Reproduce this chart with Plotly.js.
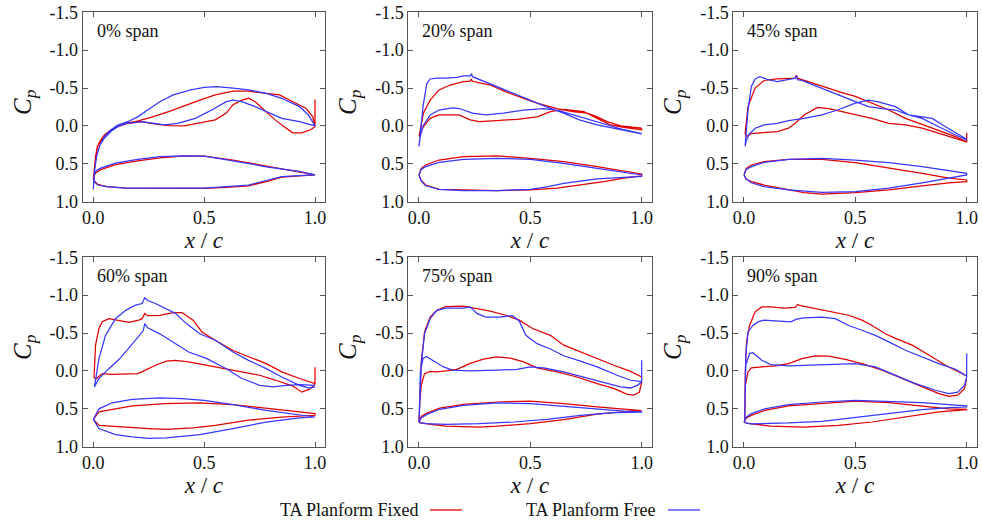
<!DOCTYPE html>
<html>
<head>
<meta charset="utf-8">
<script src="https://cdn.plot.ly/plotly-3.0.1.min.js"></script>
<style>html,body{margin:0;padding:0;background:#fff;}#chart{width:982px;height:523px;}</style>
</head>
<body>
<div id="chart"></div>
<script>
// ---------------- DATA ----------------
const spanLabels = ['0% span', '20% span', '45% span', '60% span', '75% span', '90% span'];
const seriesNames = ['TA Planform Fixed', 'TA Planform Free'];
const xTickVals = [0, 0.5, 1.0];
const xTickText = ['0.0', '0.5', '1.0'];
const yTickVals = [-1.5, -1.0, -0.5, 0.0, 0.5, 1.0];
const yTickText = ['-1.5', '-1.0', '-0.5', '0.0', '0.5', '1.0'];

// 0% span
const s0_fixed_x = [1.0, 1.0, 0.99, 0.96, 0.9, 0.84, 0.78, 0.70, 0.63, 0.55, 0.49, 0.41, 0.34, 0.26, 0.19, 0.15, 0.11, 0.08, 0.05, 0.03, 0.018, 0.01, 0.005, 0.0, 0.005, 0.01, 0.02, 0.05, 0.08, 0.11, 0.15, 0.19, 0.22, 0.26, 0.34, 0.41, 0.48, 0.55, 0.6, 0.63, 0.67, 0.70, 0.73, 0.78, 0.82, 0.87, 0.90, 0.94, 0.98, 1.0];
const s0_fixed_cp = [-0.35, 0.01, -0.12, -0.23, -0.32, -0.41, -0.43, -0.46, -0.46, -0.41, -0.35, -0.26, -0.19, -0.114, -0.056, -0.04, 0.009, 0.05, 0.12, 0.2, 0.27, 0.4, 0.55, 0.71, 0.55, 0.42, 0.27, 0.12, 0.05, 0.01, -0.03, -0.05, -0.056, -0.035, -0.004, 0.0, -0.035, -0.08, -0.17, -0.28, -0.34, -0.365, -0.32, -0.19, -0.08, 0.03, 0.09, 0.09, 0.05, 0.01];
const s0_free_x = [1.0, 0.97, 0.93, 0.85, 0.78, 0.70, 0.63, 0.555, 0.5, 0.44, 0.36, 0.3, 0.245, 0.2, 0.155, 0.11, 0.08, 0.05, 0.03, 0.015, 0.005, 0.0, 0.005, 0.015, 0.03, 0.05, 0.08, 0.11, 0.15, 0.22, 0.26, 0.32, 0.38, 0.46, 0.54, 0.6, 0.63, 0.67, 0.73, 0.78, 0.85, 0.93, 1.0];
const s0_free_cp = [0.0, -0.145, -0.255, -0.365, -0.43, -0.475, -0.50, -0.52, -0.51, -0.475, -0.41, -0.32, -0.21, -0.12, -0.056, -0.01, 0.05, 0.14, 0.25, 0.4, 0.6, 0.84, 0.6, 0.4, 0.25, 0.16, 0.07, 0.01, -0.035, -0.056, -0.035, -0.013, -0.035, -0.1, -0.22, -0.32, -0.34, -0.32, -0.255, -0.19, -0.1, -0.056, 0.0];
const s0_fixedFoil_x = [0, 0.01, 0.03, 0.1, 0.2, 0.3, 0.4, 0.5, 0.63, 0.78, 0.93, 1.0, 0.93, 0.85, 0.78, 0.7, 0.6, 0.5, 0.4, 0.3, 0.15, 0.06, 0.02, 0.005, 0];
const s0_fixedFoil_y = [0.68, 0.62, 0.58, 0.51, 0.46, 0.42, 0.40, 0.40, 0.45, 0.53, 0.60, 0.645, 0.66, 0.675, 0.735, 0.79, 0.81, 0.825, 0.825, 0.82, 0.82, 0.80, 0.77, 0.73, 0.68];
const s0_freeFoil_x = [0, 0.01, 0.03, 0.1, 0.2, 0.3, 0.4, 0.5, 0.63, 0.78, 0.93, 1.0, 0.93, 0.85, 0.78, 0.7, 0.6, 0.5, 0.4, 0.3, 0.15, 0.06, 0.02, 0.005, 0];
const s0_freeFoil_y = [0.68, 0.6, 0.56, 0.49, 0.44, 0.405, 0.395, 0.40, 0.46, 0.54, 0.60, 0.645, 0.655, 0.67, 0.72, 0.78, 0.80, 0.82, 0.82, 0.82, 0.82, 0.80, 0.78, 0.74, 0.68];

// 20% span
const s1_fixed_x = [1.0, 0.905, 0.845, 0.8, 0.755, 0.69, 0.62, 0.53, 0.47, 0.39, 0.32, 0.26, 0.24, 0.235, 0.23, 0.2, 0.14, 0.09, 0.05, 0.02, 0.005, 0.0, 0.005, 0.02, 0.05, 0.09, 0.15, 0.18, 0.23, 0.27, 0.35, 0.44, 0.53, 0.59, 0.65, 0.74, 0.8, 0.86, 0.92, 1.0, 1.0];
const s1_fixed_cp = [0.03, 0.0, -0.057, -0.12, -0.17, -0.19, -0.23, -0.3, -0.365, -0.45, -0.54, -0.585, -0.59, -0.62, -0.59, -0.585, -0.54, -0.475, -0.34, -0.17, 0.05, 0.14, 0.1, 0.01, -0.1, -0.145, -0.15, -0.145, -0.08, -0.057, -0.07, -0.088, -0.12, -0.19, -0.22, -0.19, -0.1, -0.013, 0.02, 0.05, 0.03];
const s1_free_x = [1.0, 0.95, 0.875, 0.8, 0.72, 0.65, 0.57, 0.5, 0.44, 0.35, 0.26, 0.24, 0.236, 0.23, 0.2, 0.17, 0.12, 0.08, 0.05, 0.035, 0.018, 0.005, 0.0, 0.005, 0.018, 0.05, 0.09, 0.15, 0.18, 0.24, 0.3, 0.38, 0.47, 0.56, 0.62, 0.695, 0.77, 0.845, 0.92, 1.0];
const s1_free_cp = [0.105, 0.075, 0.03, -0.013, -0.08, -0.17, -0.255, -0.34, -0.41, -0.52, -0.63, -0.65, -0.69, -0.66, -0.66, -0.64, -0.63, -0.63, -0.62, -0.56, -0.255, 0.1, 0.27, 0.15, 0.0, -0.145, -0.21, -0.24, -0.23, -0.17, -0.145, -0.17, -0.21, -0.23, -0.21, -0.145, -0.07, -0.013, 0.05, 0.1];
const s1_fixedFoil_x = [0, 0.01, 0.03, 0.09, 0.2, 0.35, 0.5, 0.65, 0.8, 0.92, 1.0, 1.0, 0.92, 0.83, 0.725, 0.62, 0.5, 0.35, 0.2, 0.09, 0.03, 0.01, 0];
const s1_fixedFoil_y = [0.647, 0.56, 0.515, 0.45, 0.405, 0.396, 0.427, 0.47, 0.537, 0.6, 0.634, 0.66, 0.69, 0.735, 0.78, 0.82, 0.845, 0.854, 0.845, 0.836, 0.78, 0.72, 0.647];
const s1_freeFoil_x = [0, 0.01, 0.03, 0.09, 0.2, 0.35, 0.5, 0.65, 0.8, 0.92, 1.0, 1.0, 0.8, 0.65, 0.58, 0.5, 0.35, 0.2, 0.09, 0.03, 0.01, 0];
const s1_freeFoil_y = [0.647, 0.575, 0.537, 0.48, 0.44, 0.427, 0.44, 0.493, 0.56, 0.616, 0.647, 0.665, 0.7, 0.757, 0.8, 0.836, 0.854, 0.854, 0.836, 0.79, 0.73, 0.647];

// 45% span
const s2_fixed_x = [1.0, 1.0, 0.95, 0.875, 0.8, 0.725, 0.65, 0.575, 0.5, 0.44, 0.35, 0.26, 0.24, 0.235, 0.23, 0.15, 0.09, 0.05, 0.018, 0.005, 0.01, 0.033, 0.09, 0.15, 0.2, 0.23, 0.27, 0.33, 0.38, 0.44, 0.5, 0.575, 0.65, 0.725, 0.8, 0.875, 0.95, 1.0];
const s2_fixed_cp = [0.09, 0.21, 0.14, 0.06, -0.013, -0.1, -0.21, -0.3, -0.39, -0.44, -0.53, -0.61, -0.63, -0.67, -0.63, -0.62, -0.6, -0.5, -0.255, 0.1, 0.14, 0.1, 0.085, 0.075, 0.03, -0.035, -0.145, -0.245, -0.23, -0.19, -0.16, -0.1, -0.035, -0.013, 0.03, 0.1, 0.16, 0.21];
const s2_free_x = [1.0, 0.95, 0.875, 0.8, 0.74, 0.68, 0.62, 0.56, 0.5, 0.44, 0.35, 0.26, 0.24, 0.236, 0.23, 0.2, 0.15, 0.11, 0.07, 0.05, 0.033, 0.018, 0.005, 0.01, 0.025, 0.05, 0.09, 0.15, 0.2, 0.27, 0.35, 0.42, 0.5, 0.56, 0.6, 0.68, 0.74, 0.8, 0.845, 0.905, 1.0];
const s2_free_cp = [0.185, 0.12, 0.01, -0.1, -0.145, -0.21, -0.23, -0.255, -0.32, -0.39, -0.5, -0.6, -0.61, -0.66, -0.63, -0.61, -0.585, -0.61, -0.65, -0.62, -0.52, -0.21, 0.27, 0.2, 0.1, 0.03, -0.013, -0.035, -0.07, -0.1, -0.145, -0.21, -0.3, -0.34, -0.32, -0.255, -0.145, -0.12, -0.1, 0.01, 0.176];
const s2_fixedFoil_x = [0, 0.01, 0.033, 0.09, 0.2, 0.35, 0.5, 0.65, 0.8, 0.92, 1.0, 1.0, 0.92, 0.8, 0.65, 0.5, 0.35, 0.27, 0.17, 0.09, 0.033, 0.01, 0];
const s2_fixedFoil_y = [0.647, 0.56, 0.515, 0.47, 0.44, 0.44, 0.484, 0.55, 0.625, 0.69, 0.713, 0.735, 0.75, 0.79, 0.845, 0.88, 0.9, 0.88, 0.82, 0.78, 0.735, 0.7, 0.647];
const s2_freeFoil_x = [0, 0.01, 0.033, 0.09, 0.2, 0.35, 0.5, 0.65, 0.8, 0.92, 1.0, 1.0, 0.92, 0.8, 0.65, 0.5, 0.35, 0.2, 0.09, 0.033, 0.01, 0];
const s2_freeFoil_y = [0.647, 0.575, 0.537, 0.48, 0.44, 0.427, 0.45, 0.484, 0.537, 0.59, 0.625, 0.647, 0.69, 0.75, 0.82, 0.867, 0.876, 0.845, 0.8, 0.75, 0.7, 0.647];

// 60% span
const s3_fixed_x = [1.0, 1.0, 0.93, 0.85, 0.78, 0.7, 0.63, 0.55, 0.49, 0.45, 0.4, 0.36, 0.3, 0.245, 0.232, 0.22, 0.205, 0.16, 0.115, 0.07, 0.04, 0.025, 0.01, 0.003, 0.01, 0.04, 0.085, 0.145, 0.2, 0.235, 0.28, 0.33, 0.37, 0.43, 0.51, 0.58, 0.66, 0.75, 0.82, 0.9, 0.94, 0.975, 1.0];
const s3_fixed_cp = [-0.05, 0.167, 0.1, 0.013, -0.097, -0.185, -0.27, -0.405, -0.515, -0.67, -0.77, -0.77, -0.735, -0.73, -0.76, -0.69, -0.67, -0.64, -0.67, -0.69, -0.65, -0.56, -0.34, 0.08, 0.11, 0.035, 0.044, 0.044, 0.035, -0.01, -0.075, -0.13, -0.14, -0.12, -0.075, -0.03, 0.005, 0.057, 0.12, 0.2, 0.28, 0.24, 0.18];
const s3_free_x = [1.0, 0.975, 0.93, 0.85, 0.78, 0.7, 0.63, 0.55, 0.48, 0.42, 0.37, 0.33, 0.28, 0.245, 0.232, 0.22, 0.19, 0.146, 0.1, 0.055, 0.025, 0.005, 0.025, 0.07, 0.115, 0.16, 0.205, 0.225, 0.232, 0.245, 0.3, 0.36, 0.43, 0.51, 0.6, 0.67, 0.75, 0.81, 0.87, 0.93, 1.0];
const s3_free_cp = [0.21, 0.225, 0.19, 0.08, -0.03, -0.14, -0.25, -0.405, -0.49, -0.625, -0.76, -0.82, -0.89, -0.93, -0.965, -0.89, -0.87, -0.8, -0.69, -0.47, -0.16, 0.21, 0.1, -0.03, -0.15, -0.3, -0.45, -0.53, -0.625, -0.57, -0.49, -0.38, -0.25, -0.165, -0.03, 0.1, 0.19, 0.21, 0.19, 0.18, 0.19];
const s3_fixedFoil_x = [0, 0.025, 0.1, 0.176, 0.325, 0.477, 0.63, 0.78, 0.9, 1.0, 1.0, 0.85, 0.7, 0.55, 0.45, 0.33, 0.25, 0.1, 0.026, 0];
const s3_fixedFoil_y = [0.64, 0.54, 0.5, 0.46, 0.43, 0.42, 0.445, 0.49, 0.53, 0.564, 0.585, 0.61, 0.65, 0.72, 0.75, 0.77, 0.76, 0.73, 0.72, 0.64];
const s3_freeFoil_x = [0, 0.025, 0.085, 0.175, 0.3, 0.4, 0.5, 0.63, 0.78, 0.9, 1.0, 1.0, 0.93, 0.78, 0.63, 0.48, 0.33, 0.25, 0.175, 0.1, 0.025, 0];
const s3_freeFoil_y = [0.64, 0.5, 0.42, 0.375, 0.357, 0.366, 0.39, 0.445, 0.52, 0.564, 0.6, 0.608, 0.62, 0.675, 0.76, 0.84, 0.885, 0.89, 0.87, 0.84, 0.76, 0.64];

// 75% span
const s4_fixed_x = [1.0, 0.95, 0.875, 0.8, 0.725, 0.65, 0.59, 0.51, 0.45, 0.39, 0.32, 0.245, 0.2, 0.12, 0.08, 0.05, 0.025, 0.01, 0.004, 0.0, 0.004, 0.01, 0.025, 0.05, 0.08, 0.12, 0.17, 0.23, 0.29, 0.35, 0.41, 0.47, 0.53, 0.62, 0.71, 0.8, 0.875, 0.935, 0.965, 0.99, 1.0];
const s4_fixed_cp = [0.08, 0.005, -0.075, -0.163, -0.25, -0.34, -0.47, -0.56, -0.67, -0.735, -0.79, -0.83, -0.855, -0.85, -0.8, -0.71, -0.515, -0.12, 0.3, 0.67, 0.4, 0.19, 0.035, 0.005, 0.013, 0.0, -0.02, -0.1, -0.155, -0.185, -0.17, -0.12, -0.04, 0.013, 0.08, 0.167, 0.23, 0.31, 0.32, 0.28, 0.145];
const s4_free_x = [1.0, 0.95, 0.89, 0.8, 0.725, 0.65, 0.59, 0.53, 0.48, 0.45, 0.42, 0.36, 0.3, 0.26, 0.23, 0.2, 0.12, 0.08, 0.05, 0.025, 0.01, 0.004, 0.0, 0.004, 0.006, 0.018, 0.033, 0.063, 0.11, 0.15, 0.23, 0.35, 0.44, 0.5, 0.56, 0.65, 0.74, 0.83, 0.905, 0.95, 0.98, 1.0, 1.0];
const s4_free_cp = [0.14, 0.123, 0.057, -0.053, -0.13, -0.2, -0.29, -0.36, -0.47, -0.66, -0.73, -0.71, -0.71, -0.76, -0.845, -0.83, -0.83, -0.8, -0.69, -0.49, -0.08, 0.3, 0.67, 0.3, 0.013, -0.163, -0.19, -0.14, -0.053, -0.01, 0.0, -0.01, -0.02, -0.053, -0.04, 0.013, 0.08, 0.154, 0.21, 0.225, 0.19, 0.145, -0.14];
const s4_fixedFoil_x = [0, 0.01, 0.033, 0.093, 0.2, 0.35, 0.5, 0.65, 0.8, 0.92, 1.0, 1.0, 0.95, 0.8, 0.65, 0.5, 0.35, 0.27, 0.12, 0.033, 0.01, 0];
const s4_fixedFoil_y = [0.68, 0.6, 0.56, 0.49, 0.44, 0.41, 0.4, 0.43, 0.475, 0.5, 0.515, 0.525, 0.53, 0.57, 0.643, 0.696, 0.73, 0.74, 0.727, 0.705, 0.69, 0.68];
const s4_freeFoil_x = [0, 0.01, 0.033, 0.093, 0.2, 0.35, 0.5, 0.65, 0.8, 0.92, 1.0, 1.0, 0.875, 0.725, 0.575, 0.425, 0.27, 0.12, 0.033, 0.01, 0];
const s4_freeFoil_y = [0.68, 0.62, 0.577, 0.506, 0.454, 0.42, 0.43, 0.467, 0.506, 0.53, 0.54, 0.545, 0.55, 0.586, 0.64, 0.674, 0.696, 0.705, 0.696, 0.69, 0.68];

// 90% span
const s5_fixed_x = [1.0, 0.905, 0.83, 0.755, 0.68, 0.635, 0.575, 0.53, 0.47, 0.39, 0.32, 0.26, 0.24, 0.23, 0.18, 0.12, 0.08, 0.05, 0.025, 0.012, 0.01, 0.006, 0.003, 0.006, 0.018, 0.033, 0.08, 0.14, 0.2, 0.26, 0.32, 0.38, 0.455, 0.53, 0.62, 0.71, 0.8, 0.875, 0.92, 0.96, 0.99, 1.0];
const s5_fixed_cp = [0.066, -0.075, -0.21, -0.34, -0.43, -0.49, -0.6, -0.67, -0.735, -0.78, -0.825, -0.86, -0.875, -0.84, -0.83, -0.845, -0.845, -0.78, -0.6, -0.4, -0.3, 0.0, 0.67, 0.19, 0.013, -0.04, -0.053, -0.066, -0.097, -0.163, -0.2, -0.194, -0.154, -0.097, -0.01, 0.1, 0.21, 0.3, 0.335, 0.32, 0.233, 0.1];
const s5_free_x = [1.0, 0.95, 0.875, 0.8, 0.725, 0.65, 0.59, 0.53, 0.47, 0.41, 0.35, 0.27, 0.24, 0.236, 0.21, 0.15, 0.09, 0.063, 0.04, 0.018, 0.008, 0.003, 0.008, 0.025, 0.04, 0.08, 0.12, 0.2, 0.3, 0.41, 0.5, 0.59, 0.68, 0.77, 0.86, 0.92, 0.96, 0.99, 1.0, 1.0];
const s5_free_cp = [0.066, -0.022, -0.097, -0.185, -0.273, -0.383, -0.47, -0.537, -0.6, -0.69, -0.71, -0.7, -0.69, -0.683, -0.647, -0.656, -0.67, -0.647, -0.6, -0.515, -0.2, 0.67, -0.075, -0.23, -0.24, -0.14, -0.084, -0.066, -0.075, -0.084, -0.097, -0.053, 0.057, 0.167, 0.255, 0.3, 0.28, 0.19, 0.08, -0.23];
const s5_fixedFoil_x = [0, 0.01, 0.033, 0.093, 0.2, 0.35, 0.5, 0.65, 0.8, 0.92, 1.0, 1.0, 0.875, 0.725, 0.575, 0.425, 0.27, 0.12, 0.033, 0.01, 0];
const s5_fixedFoil_y = [0.674, 0.62, 0.586, 0.52, 0.46, 0.43, 0.4, 0.418, 0.46, 0.5, 0.506, 0.51, 0.54, 0.61, 0.674, 0.72, 0.74, 0.727, 0.705, 0.69, 0.674];
const s5_freeFoil_x = [0, 0.01, 0.033, 0.093, 0.2, 0.35, 0.5, 0.65, 0.8, 0.92, 1.0, 1.0, 0.92, 0.8, 0.65, 0.5, 0.35, 0.2, 0.033, 0.01, 0];
const s5_freeFoil_y = [0.674, 0.61, 0.564, 0.5, 0.445, 0.41, 0.39, 0.4, 0.418, 0.445, 0.46, 0.476, 0.485, 0.51, 0.564, 0.62, 0.665, 0.687, 0.7, 0.69, 0.674];

// ---------------- BUILD ----------------
const RED = 'rgb(228,0,0)';
const BLUE = 'rgb(55,55,255)';
const FONT = "'Liberation Serif', 'Times New Roman', Times, serif";

const panels = [
  [s0_fixed_x, s0_fixed_cp, s0_free_x, s0_free_cp, s0_fixedFoil_x, s0_fixedFoil_y, s0_freeFoil_x, s0_freeFoil_y],
  [s1_fixed_x, s1_fixed_cp, s1_free_x, s1_free_cp, s1_fixedFoil_x, s1_fixedFoil_y, s1_freeFoil_x, s1_freeFoil_y],
  [s2_fixed_x, s2_fixed_cp, s2_free_x, s2_free_cp, s2_fixedFoil_x, s2_fixedFoil_y, s2_freeFoil_x, s2_freeFoil_y],
  [s3_fixed_x, s3_fixed_cp, s3_free_x, s3_free_cp, s3_fixedFoil_x, s3_fixedFoil_y, s3_freeFoil_x, s3_freeFoil_y],
  [s4_fixed_x, s4_fixed_cp, s4_free_x, s4_free_cp, s4_fixedFoil_x, s4_fixedFoil_y, s4_freeFoil_x, s4_freeFoil_y],
  [s5_fixed_x, s5_fixed_cp, s5_free_x, s5_free_cp, s5_fixedFoil_x, s5_fixedFoil_y, s5_freeFoil_x, s5_freeFoil_y]
];

const W = 982, H = 523;
const colDom = [[82.7, 325], [408.3, 651.7], [733.3, 976.7]].map(d => [d[0] / W, d[1] / W]);
const rowDom = [[12.3, 201.7], [257.3, 446.7]].map(d => [1 - d[1] / H, 1 - d[0] / H]);
const cpLabelX = [24, 349, 674];

const traces = [];
const layout = {
  width: W, height: H,
  margin: {l: 0, r: 0, t: 0, b: 0},
  paper_bgcolor: '#fff', plot_bgcolor: '#fff',
  showlegend: false,
  font: {family: FONT, size: 18, color: '#111'},
  annotations: [], shapes: []
};

panels.forEach((p, i) => {
  const n = i === 0 ? '' : String(i + 1);
  const xa = 'x' + n, ya = 'y' + n;
  const col = i % 3, row = Math.floor(i / 3);
  const line = (c) => ({color: c, width: 1.25});
  traces.push({x: p[4], y: p[5], xaxis: xa, yaxis: ya, mode: 'lines', line: line(RED), name: seriesNames[0], showlegend: false, hoverinfo: 'skip'});
  traces.push({x: p[6], y: p[7], xaxis: xa, yaxis: ya, mode: 'lines', line: line(BLUE), name: seriesNames[1], showlegend: false, hoverinfo: 'skip'});
  traces.push({x: p[0], y: p[1], xaxis: xa, yaxis: ya, mode: 'lines', line: line(RED), name: seriesNames[0], showlegend: false, hoverinfo: 'skip'});
  traces.push({x: p[2], y: p[3], xaxis: xa, yaxis: ya, mode: 'lines', line: line(BLUE), name: seriesNames[1], showlegend: false, hoverinfo: 'skip'});

  const common = {
    showline: true, linecolor: '#555', linewidth: 1, mirror: 'ticks',
    ticks: 'inside', ticklen: 5, tickwidth: 1, tickcolor: '#555',
    showgrid: false, zeroline: false,
    tickfont: {family: FONT, size: 18, color: '#111'}
  };
  layout['xaxis' + n] = Object.assign({}, common, {
    domain: colDom[col], anchor: ya, range: [-0.048, 1.045],
    tickmode: 'array', tickvals: xTickVals, ticktext: xTickText,
    title: {text: '<i>x</i> / <i>c</i>', font: {family: FONT, size: 23, color: '#111'}, standoff: 1}
  });
  layout['yaxis' + n] = Object.assign({}, common, {
    domain: rowDom[row], anchor: xa, range: [1.0, -1.5],
    tickmode: 'array', tickvals: yTickVals, ticktext: yTickText
  });
  // y-axis title (rotated, as in the reference)
  const rowMid = row === 0 ? 102 : 347;
  layout.annotations.push({
    text: '<i>C</i><sub><i>p</i></sub>', xref: 'paper', yref: 'paper',
    x: cpLabelX[col] / W, y: 1 - rowMid / H, xanchor: 'center', yanchor: 'middle',
    textangle: -90, showarrow: false, font: {family: FONT, size: 25, color: '#111'}
  });
  layout.annotations.push({
    text: spanLabels[i], xref: xa + ' domain', yref: ya + ' domain',
    x: 0.05, y: 0.9, xanchor: 'left', yanchor: 'middle', showarrow: false,
    font: {family: FONT, size: 18, color: '#111'}
  });
});

// bottom legend (text followed by line sample)
const legendItems = [
  {text: seriesNames[0], color: RED, textRight: 421, lineX0: 430, lineX1: 462},
  {text: seriesNames[1], color: BLUE, textRight: 658, lineX0: 668, lineX1: 700}
];
const legY = 1 - 510 / H;
legendItems.forEach(it => {
  layout.annotations.push({text: it.text, xref: 'paper', yref: 'paper', x: it.textRight / W, y: legY,
    xanchor: 'right', yanchor: 'middle', showarrow: false, font: {family: FONT, size: 18, color: '#111'}});
  layout.shapes.push({type: 'line', xref: 'paper', yref: 'paper', x0: it.lineX0 / W, x1: it.lineX1 / W, y0: legY, y1: legY,
    line: {color: it.color, width: 1.3}});
});

Plotly.newPlot('chart', traces, layout, {staticPlot: true, displayModeBar: false});
</script>
</body>
</html>
